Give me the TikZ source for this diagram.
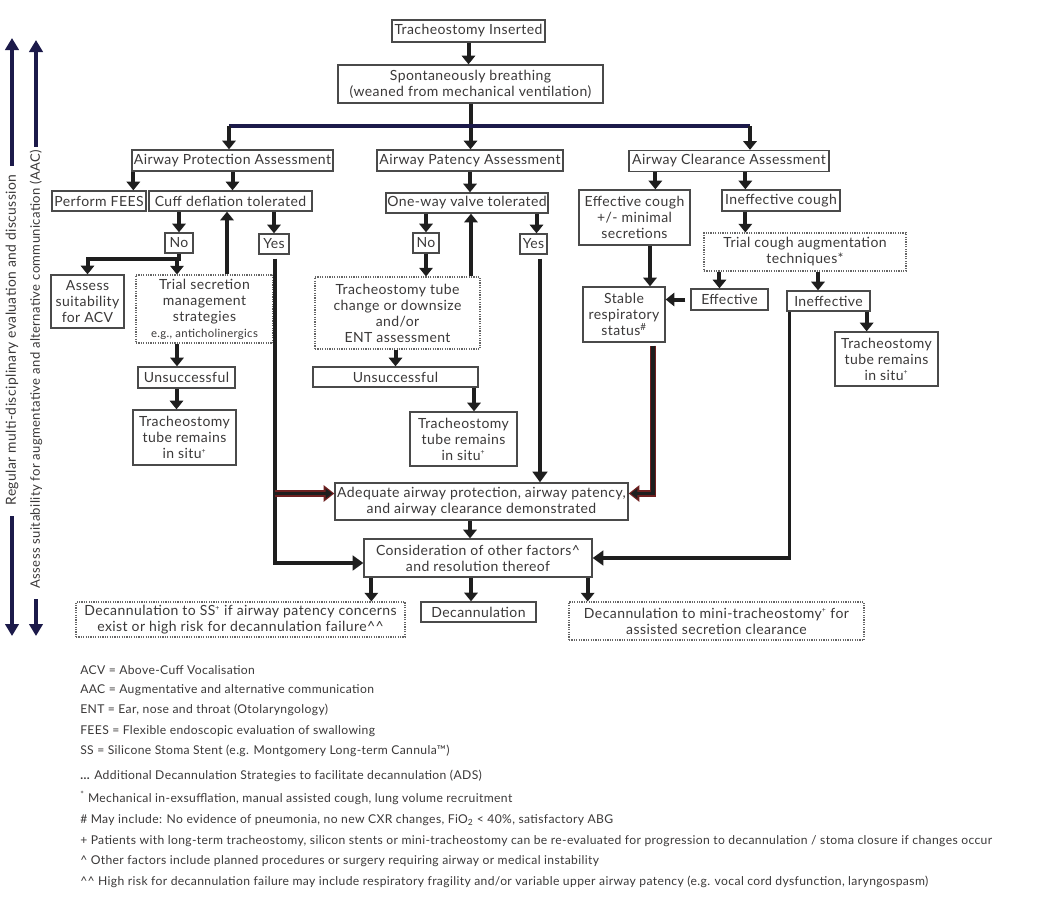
\documentclass[tikz,border=0pt]{standalone}
\usepackage{fontspec}
\setmainfont{Lato}[LetterSpace=3]
\usepackage{graphicx}
\usetikzlibrary{arrows.meta,calc}
\definecolor{txtc}{HTML}{3A3838}
\definecolor{boxc}{HTML}{4A4A4A}
\definecolor{arrc}{HTML}{1E1E1E}
\definecolor{navy}{HTML}{1C1A4A}
\definecolor{dred}{HTML}{6E2020}
\newcommand{\bxfont}{\fontsize{10.5}{12}\selectfont}
\newcommand{\ftfont}{\fontsize{9.1}{10}\selectfont}
\newcommand{\pmk}{\textsuperscript{\scalebox{0.7}{+}}}
\begin{document}
\begin{tikzpicture}[x=0.75pt,y=-0.75pt,
 bx/.style={draw=boxc, line width=1pt, align=center, inner sep=1pt, text=txtc, font=\bxfont},
 dbx/.style={bx, draw=boxc!85, line width=0.8pt, dash pattern=on 0.9pt off 0.9pt},
 sz/.style 2 args={minimum width=#1*0.75pt, minimum height=#2*0.75pt},
 arr/.style={draw=arrc, line width=3pt, -{Triangle[width=10pt,length=6.5pt]}},
 arrl/.style={draw=arrc, line width=2.6pt, -{Triangle[width=11pt,length=8pt]}},
 ln/.style={draw=arrc, line width=3pt},
 navyl/.style={draw=navy, line width=3pt},
 navyarr/.style={draw=navy, line width=3pt, -{Triangle[width=10pt,length=9pt]}},
 redarr/.style={draw=dred, line width=4.6pt, -{Triangle[width=12pt,length=8pt]}},
 redin/.style={draw=arrc, line width=2.4pt, -{Triangle[width=7.5pt,length=5pt]}, shorten >=1.6pt},
 ft/.style={anchor=west, inner sep=0pt, text=txtc, font=\ftfont},
 side/.style={rotate=90, inner sep=2pt, text=txtc}
]
\useasboundingbox (0,0) rectangle (1038,900);

% ---------- top ----------
\node[bx, sz={153}{22}] (ti) at (468.5,31) {Tracheostomy Inserted};
\node[bx, sz={265}{38}] (sb) at (470.5,84) {Spontaneously breathing\\(weaned from mechanical ventilation)};
\node[bx, sz={201}{21}] (apa) at (232.5,160.5) {Airway Protection Assessment};
\node[bx, sz={186}{21}] (apt) at (470,160.5) {Airway Patency Assessment};
\node[bx, sz={200}{21}] (aca) at (729,161) {Airway Clearance Assessment};

% ---------- protection ----------
\node[bx, sz={94}{20}] (fees) at (99,201) {Perform FEES};
\node[bx, sz={163}{20}] (cuff) at (230.5,201) {Cuff deflation tolerated};
\node[bx, sz={28}{20}] (no1) at (179,243) {No};
\node[bx, sz={30}{20}] (yes1) at (274,244) {Yes};
\node[bx, sz={73}{53}] (acv) at (87.5,301.5) {Assess\\suitability\\for ACV};
\node[dbx, sz={137}{68}] (tsm) at (204.5,309) {Trial secretion\\management\\strategies\\{\fontsize{8.5}{10}\selectfont e.g., anticholinergics}};
\node[bx, sz={97}{21}] (uns1) at (186.5,377.5) {Unsuccessful};
\node[bx, sz={103}{55}] (tr1) at (184.5,437.5) {Tracheostomy\\tube remains\\in situ\pmk};

% ---------- patency ----------
\node[bx, sz={160}{20}] (owv) at (467,203) {One-way valve tolerated};
\node[bx, sz={26}{20}] (no2) at (426,243) {No};
\node[bx, sz={27}{20}] (yes2) at (533.5,244) {Yes};
\node[dbx, sz={165}{72}] (ttc) at (397.5,313) {Tracheostomy tube\\change or downsize\\and/or\\ENT assessment};
\node[bx, sz={165}{20}] (uns2) at (395.5,377) {Unsuccessful};
\node[bx, sz={107}{54}] (tr2) at (463.5,439) {Tracheostomy\\tube remains\\in situ\pmk};

% ---------- clearance ----------
\node[bx, sz={111}{55}] (eff) at (634.5,217.5) {Effective cough\\+/- minimal\\secretions};
\node[bx, sz={118}{21}] (inc) at (781,200.5) {Ineffective cough};
\node[dbx, sz={202}{38}] (tca) at (805,252) {Trial cough augmentation\\techniques*};
\node[bx, sz={82}{55}] (srs) at (624,314.5) {Stable\\respiratory\\status\textsuperscript{\#}};
\node[bx, sz={77}{21}] (effv) at (729.5,299.5) {Effective};
\node[bx, sz={83}{20}] (ineff) at (828.5,301) {Ineffective};
\node[bx, sz={103}{54}] (tr3) at (886.5,359) {Tracheostomy\\tube remains\\in situ\pmk};

% ---------- bottom ----------
\node[bx, sz={293}{37}] (adq) at (481.5,501.5) {Adequate airway protection, airway patency,\\and airway clearance demonstrated};
\node[bx, sz={228}{38}] (con) at (478,558) {Consideration of other factors\textasciicircum\\and resolution thereof};
\node[dbx, sz={329}{35}] (dss) at (240.5,619.5) {Decannulation to SS\pmk{} if airway patency concerns\\exist or high risk for decannulation failure\textasciicircum\textasciicircum};
\node[bx, sz={115}{20}] (dec) at (478.5,612) {Decannulation};
\node[dbx, sz={295}{38}] (dmt) at (716.5,621) {Decannulation to mini-tracheostomy\pmk{} for\\assisted secretion clearance};

% ---------- side labels ----------
\node[side, font=\fontsize{10.4}{11}\selectfont] (lbl1) at (12,340) {Regular multi-disciplinary evaluation and discussion};
\node[side, font=\fontsize{9.8}{11}\selectfont] (lbl2) at (36,369) {Assess suitability for augmentative and alternative communication (AAC)};
\coordinate (t1) at (12,38);
\coordinate (b1) at (12,636);
\coordinate (t2) at (36,40);
\coordinate (b2) at (36,636);
\draw[navyarr] ($(lbl1.east)+(0,-6)$) -- (t1);
\draw[navyarr] ($(lbl1.west)+(0,8)$) -- (b1);
\draw[navyarr] (lbl2.east) -- (t2);
\draw[navyarr] ($(lbl2.west)+(0,8)$) -- (b2);

% ---------- connectors: top ----------
\draw[arr] (ti.south) -- (ti.south |- sb.north);
\draw[arr] (sb.south) -- (sb.south |- apt.north);
\coordinate (hl) at (229,126);
\coordinate (hr) at (750,126);
\draw[navyl] (hl) -- (hr);
\draw[arr] (hl) -- (hl |- apa.north);
\draw[arr] (hr) -- (hr |- aca.north);

% ---------- connectors: protection ----------
\coordinate (pa1) at ($(apa.south west)+(2,0)$);
\draw[arr] (pa1) -- (pa1 |- fees.north);
\draw[arr] (apa.south) -- (apa.south |- cuff.north);
\draw[arr] (no1.north |- cuff.south) -- (no1.north);
\coordinate (u1) at ($(tsm.north)+(22.5,0)$);
\draw[arr] (u1) -- (u1 |- cuff.south);
\draw[arr] (yes1.north |- cuff.south) -- (yes1.north);
\coordinate (nb) at ($(no1.south)+(-2,5)$);
\draw[ln] (no1.south) |- (nb);
\draw[arr] (nb) -| (acv.north);
\draw[arr] (nb) -- (nb |- tsm.north);
\coordinate (tb) at ($(tsm.south)+(-27.5,0)$);
\draw[arr] (tb) -- (tb |- uns1.north);
\coordinate (ub) at ($(uns1.south)+(-10,0)$);
\draw[arr] (ub) -- (ub |- tr1.north);
\coordinate (y1) at ($(yes1.south)+(1,4)$);
\draw[arrl] (y1) |- ($(con.west)+(0,5)$);
\coordinate (aw) at ($(adq.west)+(0,-8)$);
\draw[redarr] (y1 |- aw) -- (aw);
\draw[redin] (y1 |- aw) -- (aw);

% ---------- connectors: patency ----------
\draw[arr] (apt.south) -- (apt.south |- owv.north);
\draw[arr] (no2.north |- owv.south) -- (no2.north);
\coordinate (u3) at ($(ttc.north)+(73.5,0)$);
\draw[arr] (u3) -- (u3 |- owv.south);
\coordinate (yo) at ($(yes2.north)+(3,0)$);
\draw[arr] (yo |- owv.south) -- (yo);
\draw[arr] (no2.south) -- (no2.south |- ttc.north);
\draw[arr] (uns2.north |- ttc.south) -- (uns2.north);
\coordinate (u4) at ($(uns2.south)+(78.5,0)$);
\draw[arr] (u4) -- (u4 |- tr2.north);
\coordinate (y2) at ($(yes2.south)+(6.5,4)$);
\draw[arrl] (y2) -- (y2 |- adq.north);
\coordinate (a1) at ($(adq.south)+(-11.5,0)$);
\draw[arr] (a1) -- (a1 |- con.north);
\coordinate (c1) at ($(con.south west)+(8,0)$);
\draw[arr] (c1) -- (c1 |- dss.north);
\coordinate (c2) at ($(con.south)+(-7,0)$);
\draw[arr] (c2) -- (c2 |- dec.north);
\coordinate (c3) at ($(con.south east)+(-5,0)$);
\draw[arr] (c3) -- (c3 |- dmt.north);

% ---------- connectors: clearance ----------
\coordinate (k1) at ($(aca.south west)+(27,0)$);
\draw[arr] (k1) -- (k1 |- eff.north);
\coordinate (k2) at ($(aca.south west)+(117,0)$);
\draw[arr] (k2) -- (k2 |- inc.north);
\draw[arr] (k2 |- inc.south) -- (k2 |- tca.north);
\coordinate (k3) at ($(eff.south)+(15.5,0)$);
\draw[arr] (k3) -- (k3 |- srs.north);
\coordinate (k4) at ($(tca.south west)+(16,0)$);
\draw[arr] (k4) -- (k4 |- effv.north);
\coordinate (k5) at ($(tca.south)+(13,0)$);
\draw[arr] (k5) -- (k5 |- ineff.north);
\draw[arr] ($(effv.west)+(-5,0)$) -- (srs.east |- effv.west);
\coordinate (k6) at ($(ineff.south east)+(-4,0)$);
\draw[arr] (k6) -- (k6 |- tr3.north);
\coordinate (i1) at ($(ineff.south west)+(3,0)$);
\draw[arrl] (i1) |- (con.east);
\coordinate (s1) at ($(srs.south)+(29,3)$);
\coordinate (ae) at ($(adq.east)+(0,-8)$);
\draw[redarr] (s1) |- (ae);
\draw[redin] (s1) |- (ae);

% ---------- footnotes ----------
\node[ft] (f1) at (80,670) {ACV = Above-Cuff Vocalisation};
\node[ft] (f2) at (80,690) {AAC = Augmentative and alternative communication};
\node[ft] (f3) at (80,710) {ENT = Ear, nose and throat (Otolaryngology)};
\node[ft] (f4) at (80,731) {FEES = Flexible endoscopic evaluation of swallowing};
\node[ft] (f5) at (80,751) {SS = Silicone Stoma Stent (e.g. Montgomery Long-term Cannula\texttrademark)};
\node[ft] (f6) at (80,776) {{\bfseries ...} Additional Decannulation Strategies to facilitate decannulation (ADS)};
\node[ft] (f7) at (80,798) {\textsuperscript{*} Mechanical in-exsufflation, manual assisted cough, lung volume recruitment};
\node[ft] (f8) at (80,820) {\# May include: No evidence of pneumonia, no new CXR changes, FiO\textsubscript{2} < 40\%, satisfactory ABG};
\node[ft] (f9) at (80,841) {+ Patients with long-term tracheostomy, silicon stents or mini-tracheostomy can be re-evaluated for progression to decannulation / stoma closure if changes occur};
\node[ft] (f10) at (80,861) {\textasciicircum{} Other factors include planned procedures or surgery requiring airway or medical instability};
\node[ft] (f11) at (80,882) {\textasciicircum\textasciicircum{} High risk for decannulation failure may include respiratory fragility and/or variable upper airway patency (e.g. vocal cord dysfunction, laryngospasm)};
\end{tikzpicture}
\end{document}
